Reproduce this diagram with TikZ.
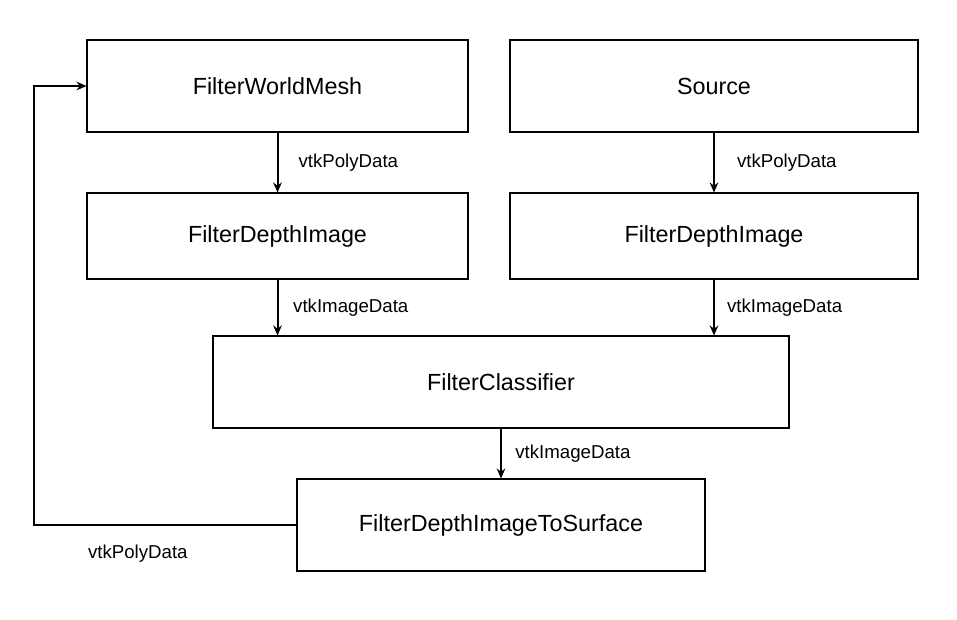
\documentclass[tikz,border=0pt]{standalone}
\usepackage{fontspec}
\setmainfont{Liberation Sans}
\usepackage{tikz}
\usetikzlibrary{
        arrows.meta,
        positioning
    }
\tikzset{>={Stealth[length=7.5pt,width=6.5pt,inset=2.5pt]},auto}
\tikzset{block/.style={draw,line width=0.8pt,rectangle,inner sep=0pt,font=\fontsize{17.5}{21}\selectfont}}
\tikzset{lbl/.style={font=\fontsize{14}{17}\selectfont,anchor=west,inner sep=0pt}}

\begin{document}
\begin{tikzpicture}[x=0.75pt,y=-0.75pt,line width=1.5pt]
    \useasboundingbox (0,0) rectangle (957,619);
                \node[block,minimum width=285.75pt,minimum height=69pt] (worldmesh) at (277.5,86) {FilterWorldMesh};
                \node[block,minimum width=306pt,minimum height=69pt] (source) at (714,86) {Source};
                \node[block,minimum width=285.75pt,minimum height=64.5pt] (depthleft) at (277.5,236) {FilterDepthImage};
                \node[block,minimum width=306pt,minimum height=64.5pt] (depthright) at (714,236) {FilterDepthImage};
                \node[block,minimum width=432pt,minimum height=69pt] (classifier) at (501,382) {FilterClassifier};
                \node[block,minimum width=306pt,minimum height=69pt] (tosurface) at (501,525) {FilterDepthImageToSurface};
            \draw[->]
                    (worldmesh) -- node[lbl,xshift=15pt] {vtkPolyData} (depthleft);
            \draw[->]
                    (source) -- node[lbl,xshift=16.5pt] {vtkPolyData} (depthright);
            \draw[->]
                    (depthleft) -- node[lbl,xshift=11pt] {vtkImageData} (depthleft.south |- classifier.north);
            \draw[->]
                    (depthright) -- node[lbl,xshift=9pt] {vtkImageData} (depthright.south |- classifier.north);
            \draw[->]
                    (classifier) -- node[lbl,xshift=10pt] {vtkImageData} (tosurface);
    %				feedback to the mesh filter
            \draw[->] (tosurface.west) -- ++(-262,0) |- (worldmesh.west);
                \node[lbl] (feedback) at (87,554) {vtkPolyData};
            \end{tikzpicture}
\end{document}
